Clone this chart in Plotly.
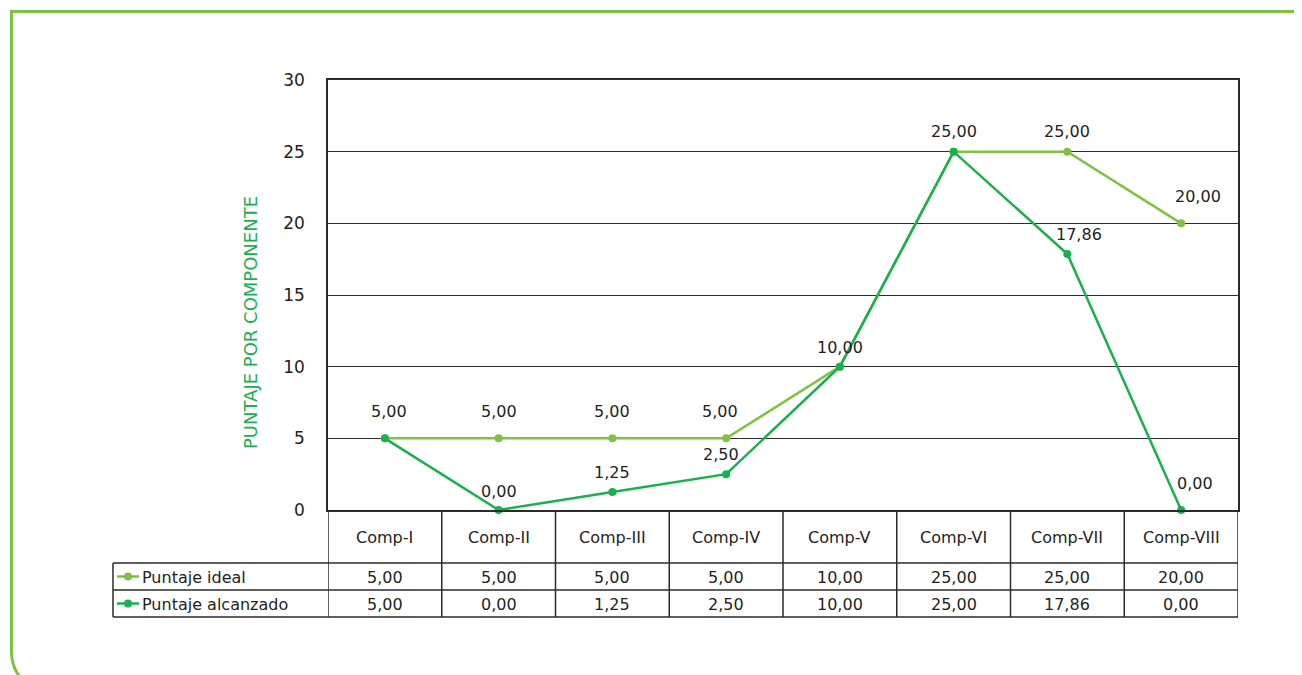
import plotly.graph_objects as go

categories = ["Comp-I", "Comp-II", "Comp-III", "Comp-IV", "Comp-V", "Comp-VI", "Comp-VII", "Comp-VIII"]
ideal = [5.00, 5.00, 5.00, 5.00, 10.00, 25.00, 25.00, 20.00]
alcanzado = [5.00, 0.00, 1.25, 2.50, 10.00, 25.00, 17.86, 0.00]
series_names = ["Puntaje ideal", "Puntaje alcanzado"]
y_ticks = [0, 5, 10, 15, 20, 25, 30]
y_title = "PUNTAJE POR COMPONENTE"

OFF = 8  # page body margin
W, H = 1302 - OFF, 675 - OFF
C_IDEAL = "#7DC242"
C_ALC = "#19B04F"
GRID = "#2b2b2b"
TXT = "#231F20"
FONT = "DejaVu Sans"
FS = 16


def px(x):
    return (x - OFF) / W


def py(y):
    return 1 - (y - OFF) / H


def fmt(v):
    return f"{v:.2f}".replace(".", ",")


PLOT_L, PLOT_R, PLOT_T, PLOT_B = 328, 1238, 80, 510
TAB_L = 113
ROW1, ROW2, ROW3 = 563, 590, 617

fig = go.Figure()
idx = list(range(len(categories)))
fig.add_trace(go.Scatter(x=idx, y=ideal, mode="lines+markers", name=series_names[0],
                         line=dict(color=C_IDEAL, width=2.5), marker=dict(size=8, color=C_IDEAL),
                         cliponaxis=False))
fig.add_trace(go.Scatter(x=idx, y=alcanzado, mode="lines+markers", name=series_names[1],
                         line=dict(color=C_ALC, width=2.5), marker=dict(size=8, color=C_ALC),
                         cliponaxis=False))

annotations = []
shapes = []
tfont = dict(family=FONT, size=FS, color=TXT)

# data labels (offsets in pixels relative to point); None = shared label drawn once
ideal_shift = [(4, 27), (0, 27), (0, 27), (-6, 27), (0, 19), (0, 20), (0, 20), (17, 27)]
alc_shift = [None, (0, 19), (0, 20), (-5, 20), None, None, (12, 20), (14, 27)]
for i, v in enumerate(ideal):
    dx, dy = ideal_shift[i]
    annotations.append(dict(x=i, y=v, xref="x", yref="y", text=fmt(v), showarrow=False,
                            xanchor="center", yanchor="middle", xshift=dx, yshift=dy, font=tfont))
for i, v in enumerate(alcanzado):
    if alc_shift[i] is None:
        continue
    dx, dy = alc_shift[i]
    annotations.append(dict(x=i, y=v, xref="x", yref="y", text=fmt(v), showarrow=False,
                            xanchor="center", yanchor="middle", xshift=dx, yshift=dy, font=tfont))

# table: category row and values
n = len(categories)
for i, c in enumerate(categories):
    annotations.append(dict(x=i, y=py((PLOT_B + ROW1) / 2 + 1), xref="x", yref="paper", text=c,
                            xanchor="center", yanchor="middle", showarrow=False, font=tfont))
    annotations.append(dict(x=i, y=py((ROW1 + ROW2) / 2 + 1), xref="x", yref="paper", text=fmt(ideal[i]),
                            xanchor="center", yanchor="middle", showarrow=False, font=tfont))
    annotations.append(dict(x=i, y=py((ROW2 + ROW3) / 2 + 1), xref="x", yref="paper", text=fmt(alcanzado[i]),
                            xanchor="center", yanchor="middle", showarrow=False, font=tfont))

# legend keys in table
for k, (nm, col) in enumerate(zip(series_names, [C_IDEAL, C_ALC])):
    yc = (ROW1 + ROW2) / 2 if k == 0 else (ROW2 + ROW3) / 2
    annotations.append(dict(x=px(140), y=py(yc + 1), xref="paper", yref="paper", text=nm,
                            xanchor="left", yanchor="middle", showarrow=False, font=tfont))
    shapes.append(dict(type="line", xref="paper", yref="paper", x0=px(117), x1=px(139), y0=py(yc), y1=py(yc),
                       line=dict(color=col, width=2.5)))
    shapes.append(dict(type="circle", xref="paper", yref="paper", x0=px(124), x1=px(132),
                       y0=py(yc + 4), y1=py(yc - 4), fillcolor=col, line=dict(color=col, width=0)))

LINE = dict(color=GRID, width=1.5)
for yy in [ROW1, ROW2, ROW3]:
    shapes.append(dict(type="line", xref="paper", yref="paper", x0=px(TAB_L), x1=px(PLOT_R),
                       y0=py(yy), y1=py(yy), line=LINE))
shapes.append(dict(type="line", xref="paper", yref="paper", x0=px(TAB_L), x1=px(TAB_L),
                   y0=py(ROW1), y1=py(ROW3), line=LINE))
for k in range(n + 1):
    shapes.append(dict(type="line", xref="x", yref="paper", x0=k - 0.5, x1=k - 0.5,
                       y0=py(PLOT_B), y1=py(ROW3), line=LINE))

# green frame
frame_path = (f"M {px(1320)},{py(11.5)} L {px(11.5)},{py(11.5)} L {px(11.5)},{py(652)} "
              f"Q {px(11.5)},{py(675)} {px(34)},{py(690)}")
shapes.append(dict(type="path", xref="paper", yref="paper", path=frame_path,
                   line=dict(color=C_IDEAL, width=3)))

annotations.append(dict(x=px(250), y=py(323), xref="paper", yref="paper", text=y_title, textangle=-90,
                        xanchor="center", yanchor="middle", showarrow=False,
                        font=dict(family=FONT, size=18, color=C_ALC)))

fig.update_layout(
    width=W, height=H, margin=dict(l=0, r=0, t=0, b=0, autoexpand=False),
    paper_bgcolor="white", plot_bgcolor="white", showlegend=False,
    xaxis=dict(domain=[px(PLOT_L), px(PLOT_R)], range=[-0.5, n - 0.5], showticklabels=False,
               showgrid=False, zeroline=False, showline=True, linecolor=GRID, linewidth=1.5, mirror=True,
               automargin=False, fixedrange=True),
    yaxis=dict(domain=[py(PLOT_B), py(PLOT_T)], range=[0, 30], tickvals=y_ticks,
               showgrid=True, gridcolor=GRID, gridwidth=1, zeroline=False, showline=True,
               linecolor=GRID, linewidth=1.5, mirror=True, ticks="", ticklabelstandoff=18,
               automargin=False, tickfont=dict(family=FONT, size=17, color=TXT), fixedrange=True),
    annotations=annotations, shapes=shapes,
)

fig.write_html("out.html")
